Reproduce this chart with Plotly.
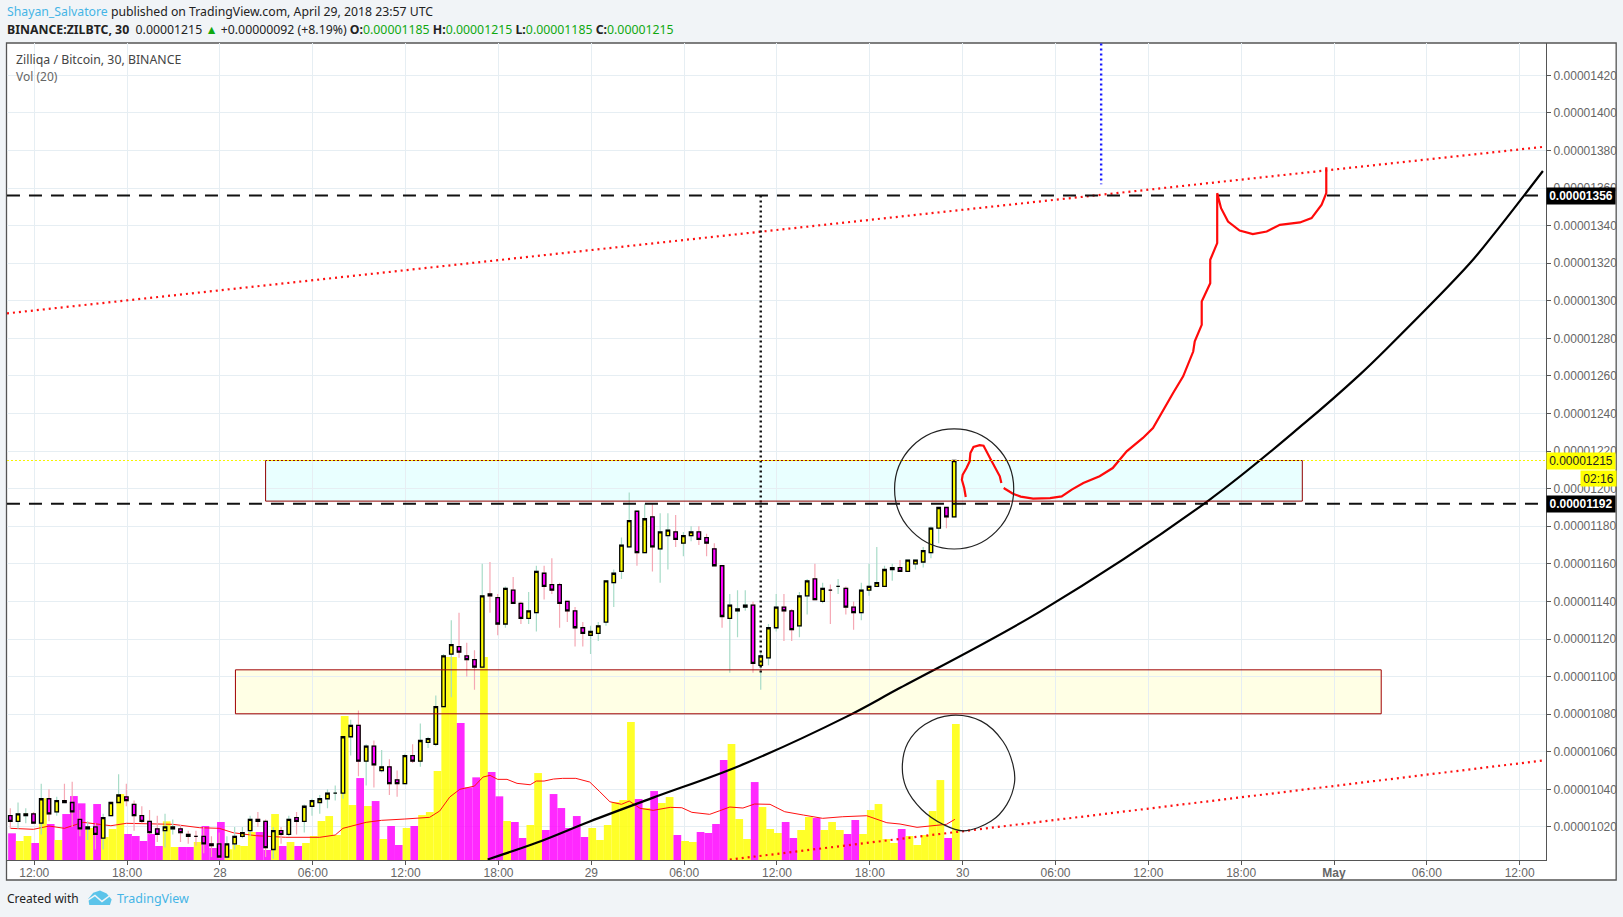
import plotly.graph_objects as go

# Prices are in units of 0.00000001 BTC; one bar = 30 minutes, bar 0 = Apr 27 10:30
opens = [1026,1023,1026,1027,1022,1035,1028,1034,1033,1024,
         1019,1020,1014,1026,1033,1036,1032,1026,1023,1019,
         1018,1019,1019,1016,1015,1015,1011,1011,1004,1011,
         1015,1018,1024,1023,1008,1018,1016,1025,1023,1031,
         1033,1035,1038,1038,1068,1074,1055,1063,1050,1052,
         1045,1043,1058,1055,1065,1064,1084,1112,1116,1111,
         1109,1105,1144,1142,1128,1146,1139,1131,1134,1155,
         1149,1149,1140,1135,1126,1122,1123,1129,1150,1156,
         1169,1188,1166,1185,1168,1175,1177,1171,1175,1177,
         1174,1168,1159,1131,1135,1137,1138,1106,1110,1126,
         1137,1135,1127,1143,1152,1140,1146,1148,1147,1137,
         1134,1146,1148,1148,1157,1158,1156,1160,1161,1166,
         1179,1190,1185]
highs = [1030,1033,1030,1028,1043,1040,1036,1043,1044,1029,
         1023,1022,1027,1033,1048,1043,1034,1031,1029,1026,
         1027,1024,1021,1018,1018,1020,1015,1017,1015,1020,
         1020,1026,1028,1024,1020,1020,1026,1028,1032,1035,
         1037,1040,1042,1068,1077,1082,1064,1066,1061,1056,
         1050,1059,1064,1075,1068,1090,1112,1130,1134,1118,
         1114,1160,1161,1144,1148,1153,1140,1145,1159,1159,
         1163,1150,1140,1137,1129,1127,1129,1151,1157,1174,
         1198,1188,1192,1192,1187,1187,1186,1177,1180,1180,
         1176,1171,1159,1144,1146,1146,1140,1113,1128,1144,
         1144,1136,1145,1152,1160,1150,1149,1152,1148,1140,
         1150,1160,1169,1159,1160,1162,1162,1162,1169,1180,
         1190,1190,1215]
lows = [1019,1019,1022,1022,1016,1023,1026,1033,1020,1015,
        1013,1008,1008,1026,1033,1031,1018,1022,1016,1012,
        1009,1016,1012,1011,1010,1006,1004,1003,1003,1008,
        1014,1015,1020,1004,1003,1011,1015,1016,1017,1026,
        1027,1030,1034,1035,1058,1047,1042,1041,1049,1037,
        1036,1043,1054,1052,1062,1063,1084,1089,1110,1100,
        1093,1105,1134,1122,1126,1139,1128,1128,1124,1141,
        1144,1126,1129,1116,1116,1112,1119,1127,1137,1152,
        1169,1159,1166,1156,1150,1157,1169,1164,1172,1170,
        1164,1159,1126,1102,1121,1135,1102,1093,1106,1124,
        1119,1119,1121,1133,1141,1139,1128,1144,1133,1125,
        1130,1143,1148,1148,1151,1156,1156,1157,1158,1163,
        1171,1179,1185]
closes = [1023,1027,1027,1022,1035,1027,1034,1033,1028,1019,
          1020,1016,1025,1033,1037,1034,1026,1023,1017,1016,
          1020,1020,1017,1015,1015,1011,1010,1004,1011,1015,
          1017,1024,1023,1009,1018,1016,1024,1023,1031,1034,
          1035,1038,1038,1068,1074,1055,1063,1053,1052,1043,
          1043,1058,1055,1066,1067,1084,1111,1117,1113,1109,
          1105,1143,1143,1128,1147,1139,1131,1135,1156,1148,
          1146,1139,1135,1126,1123,1124,1127,1151,1155,1170,
          1183,1166,1184,1169,1177,1178,1173,1175,1177,1173,
          1171,1159,1132,1138,1136,1138,1107,1111,1126,1137,
          1135,1125,1143,1151,1141,1147,1146,1148,1137,1134,
          1146,1148,1150,1157,1158,1156,1162,1162,1167,1179,
          1190,1185,1215]
volumes = [26.7,19,24,17,61.7,36,20,46,64,56.7,
           32,56,23,31,66,26,24,19,26,14,
           38.7,13,13,13,18,34,12,38,10.7,15,
           14,28,28,10,46,14,18,14,17,24,
           39,44,25,144,55,82,54,59,21,34,
           15,32,34,45,48,89,203,203,137,72.7,
           82.7,203,88,63.7,39,38,22,35,87,30,
           66,52,32,44,23,32,20,35,58,60,
           138,61,52,69,57,63,25,19,18,28,
           27,36,100,116,41,21,78,53,31,27,
           38,22,30,43,42,30,38,30,26,40,
           26,50,56,21,17,31,24,15,25,49,
           80,22,136]
vol_ma_bar = [0,3,5,7,9.4,13,15,18,21,24.5,27,28.8,31.8,35.6,40,42,43,46,48,51,53,54.2,
              55.5,56.8,58.1,60,61.1,62,63,64.2,65.5,67.2,68,69,70.2,71.4,73.1,74.9,76.2,
              77.5,79,80,81.4,83.1,85.3,86.8,88.1,90.4,91.7,93,94.7,96.2,98.2,100.1,102.5,
              105,107.6,110.7,113.3,115,117.2,119.3,121,122.1]
vol_ma = [31.7,30.7,34,31.7,37.7,34.3,36.7,36.3,35.7,32.3,31.7,27.3,24.3,22.7,22.7,25,31.7,37.7,39.7,41,41.7,42.7,
          49,63,70.7,74,83,84.7,80.7,80.7,76.7,75.3,79,79,81,81.7,81.7,78,68.3,
          58.3,55.7,59,51.7,49.7,52.7,52.3,47.7,45.7,49.3,53,52,56,55.7,48.3,45,
          41.7,43.3,44.3,37.3,36,32.7,34.7,35.7,40.7]

price_ticks = list(range(1020, 1421, 20))
time_ticks = ["12:00","18:00","28","06:00","12:00","18:00","29","06:00","12:00","18:00",
              "30","06:00","12:00","18:00","<b>May</b>","06:00","12:00"]

level_high = 1356
level_low = 1192
last_price = 1215
cyan_zone = (33, 167, 1193.4, 1215)
yellow_zone = (29.1, 177.2, 1080.2, 1103.6)
channel_upper_bar = [-0.43, 198.1]
channel_upper = [1293.3, 1381.9]
channel_lower_bar = [93, 198]
channel_lower = [1002.6, 1055.3]
curve_bar = [61.7,68.1,74.9,83.1,94.3,108.1,114.6,133.1,155.0,167.2,174.4,177.9,188.6,192.3,198.1]
curve_price = [1002.7,1011.7,1022.9,1035.6,1052.6,1078.7,1093.1,1134.6,1194.1,1234.6,1260.6,1274.5,1319.7,1338.3,1369.1]
hump_bar = [123.5,123.3,123.0,123.1,123.6,124.0,124.1,124.5,125.3,125.8,126.7,127.3,127.9,128.1]
hump_price = [1195.6,1200.4,1204.8,1207.4,1211.0,1214.5,1219.0,1222.2,1223.2,1222.9,1215.8,1211.0,1206.6,1203.0]
path_bar = [128.4,129.6,130.6,132.2,134.4,135.9,137.2,138.7,140.8,142.5,144.3,146.4,147.7,149.0,150.3,151.6,152.9,153.1,
            154.0,154.0,155.1,155.1,156.0,156.0,156.5,157.4,158.9,160.6,162.4,164.1,166.7,168.2,169.5,170.1,170.1]
path_price = [1200.4,1197.3,1195.8,1194.7,1195.0,1195.9,1199.5,1203.0,1206.6,1211.0,1219.9,1227.0,1232.3,1242.0,1250.9,1259.8,1273.0,1278.4,
              1287.2,1299.6,1309.4,1321.8,1330.7,1357.3,1349.3,1342.2,1337.4,1335.5,1336.9,1340.4,1341.7,1344.0,1351.1,1357.3,1371.1]
loop_bar = [121.6,125.5,128.3,129.6,129.8,128.8,126.8,123.2,120.6,117.8,115.8,115.3,116.0,118.2,121.6]
loop_price = [1079.4,1076.3,1065.6,1053.2,1043.5,1031.9,1023.1,1017.9,1021.3,1029.3,1040.8,1052.3,1064.7,1074.5,1079.4]

YELLOW, MAGENTA = "#ffff00", "#ff00ff"
bars = list(range(len(closes)))
X0, X1, Y0, Y1 = 7.0, 1546.5, 43.0, 860.5
PW, PH = X1 - X0, Y1 - Y0
px = lambda v: (v - X0) / PW
py = lambda v: (Y1 - v) / PH

LIGHT = "#e6eef3"
FONT = "Liberation Sans"
HFONT = "Noto Sans"
BLUE = "#45b4e6"
GREEN = "#10a810"

fig = go.Figure()
# volume
fig.add_bar(x=[b + 0.22 for b in bars], y=volumes, width=1.0, yaxis="y",
            marker=dict(color=[YELLOW if c >= o else MAGENTA for o, c in zip(opens, closes)],
                        opacity=0.84, line_width=0), hoverinfo="skip")
fig.add_scatter(x=vol_ma_bar, y=vol_ma, mode="lines", yaxis="y",
                line=dict(color="#ff1010", width=1), hoverinfo="skip")
# candle wicks
fig.add_candlestick(x=bars, open=opens, high=highs, low=lows, close=closes, yaxis="y2",
                    increasing=dict(line=dict(color="#a8dcc8", width=1.2), fillcolor="rgba(0,0,0,0)"),
                    decreasing=dict(line=dict(color="#f5a8b4", width=1.2), fillcolor="rgba(0,0,0,0)"),
                    whiskerwidth=0, hoverinfo="skip")
# candle bodies
fig.add_candlestick(x=bars, open=opens, close=closes,
                    high=[max(o, c) for o, c in zip(opens, closes)],
                    low=[min(o, c) for o, c in zip(opens, closes)], yaxis="y2",
                    increasing=dict(line=dict(color="#000", width=1.3), fillcolor=YELLOW),
                    decreasing=dict(line=dict(color="#000", width=1.3), fillcolor=MAGENTA),
                    whiskerwidth=0, hoverinfo="skip")


def line(x, y, color, width, dash="solid", shape="linear"):
    fig.add_scatter(x=x, y=y, mode="lines", yaxis="y2", hoverinfo="skip",
                    line=dict(color=color, width=width, dash=dash, shape=shape))


xend = [-0.43, 198.5]
line(channel_upper_bar, channel_upper, "#ff1010", 2.2, "2px,4px")
line(channel_lower_bar, channel_lower, "#ff1010", 2.2, "2px,4px")
line(xend, [level_high, level_high], "#111", 2, "13px,9px")
line(xend, [level_low, level_low], "#111", 2, "13px,9px")
line(curve_bar, curve_price, "#000", 2.2, shape="spline")
line([97, 97], [1356, 1102], "#111", 2.4, "2px,3px")
line([141, 141], [1437, 1362], "#1a1aff", 2.4, "2px,3px")
line(hump_bar, hump_price, "#ff0a0a", 2.2)
line(path_bar, path_price, "#ff0a0a", 2.2)
line(loop_bar, loop_price, "#222", 1.2, shape="spline")

shapes = [
    dict(type="rect", xref="paper", yref="paper", layer="below",
         x0=px(6.5), x1=px(1616.7), y0=py(880.5), y1=py(43),
         fillcolor="white", line=dict(color="#555", width=1.3)),
    dict(type="rect", xref="x", yref="y2", layer="below",
         x0=cyan_zone[0], x1=cyan_zone[1], y0=cyan_zone[2], y1=cyan_zone[3],
         fillcolor="rgba(0,255,255,0.085)", line_width=0),
    dict(type="rect", xref="x", yref="y2", layer="below",
         x0=yellow_zone[0], x1=yellow_zone[1], y0=yellow_zone[2], y1=yellow_zone[3],
         fillcolor="rgba(255,255,0,0.1)", line_width=0),
    dict(type="rect", xref="x", yref="y2", layer="above",
         x0=cyan_zone[0], x1=cyan_zone[1], y0=cyan_zone[2], y1=cyan_zone[3],
         line=dict(color="#8f0000", width=1)),
    dict(type="rect", xref="x", yref="y2", layer="above",
         x0=yellow_zone[0], x1=yellow_zone[1], y0=yellow_zone[2], y1=yellow_zone[3],
         line=dict(color="#a00000", width=1)),
    dict(type="line", xref="x", yref="y2", layer="above",
         x0=xend[0], x1=xend[1], y0=last_price, y1=last_price,
         line=dict(color="#f8f400", width=1.2, dash="2px,2px")),
    dict(type="circle", xref="x", yref="y2", layer="above",
         x0=114.3, x1=129.7, y0=1167.9, y1=1231.8, line=dict(color="#222", width=1.2)),
    # TradingView cloud
    dict(type="path", xref="paper", yref="paper", layer="above", line_width=0, fillcolor="#5cc4ea",
         path="M {} {} L {} {} L {} {} L {} {} L {} {} L {} {} L {} {} Z".format(
             px(88.3), py(899.3), px(93.3), py(893.3), px(100), py(891), px(106.7), py(894),
             px(111.7), py(900), px(110), py(905.5), px(89.3), py(905.5))),
    dict(type="path", xref="paper", yref="paper", layer="above", fillcolor="rgba(0,0,0,0)",
         line=dict(color="#f1f4f7", width=1.5),
         path="M {} {} L {} {} L {} {} L {} {}".format(
             px(87.5), py(901), px(95), py(896), px(102), py(902), px(110), py(896))),
]


def note(x, y, text, size=12, color="#333", family=HFONT, anchor="left", **kw):
    fig.add_annotation(xref="paper", yref="paper", x=px(x), y=py(y), text=text, showarrow=False,
                       xanchor=anchor, yanchor="middle", font=dict(size=size, color=color, family=family), **kw)


def tag(price, text, bg, fg, x=X1, width=68, height=16, bold=True):
    fig.add_annotation(xref="paper", yref="y2", x=px(x), y=price, text=f"<b>{text}</b>" if bold else text,
                       showarrow=False, xanchor="left", yanchor="middle", width=width, height=height,
                       bgcolor=bg, borderpad=0, align="center",
                       font=dict(size=12, color=fg, family=FONT))


note(4.5, 11.5, f'<span style="color:{BLUE}">Shayan_Salvatore</span> published on TradingView.com, April 29, 2018 23:57 UTC', size=12.25, color="#222")
note(4.5, 29, f'<b>BINANCE:ZILBTC, 30</b>&#160;&#160;0.00001215 <span style="color:{GREEN}">▲</span> +0.00000092 (+8.19%) '
     f'<b>O:</b><span style="color:{GREEN}">0.00001185</span> <b>H:</b><span style="color:{GREEN}">0.00001215</span> '
     f'<b>L:</b><span style="color:{GREEN}">0.00001185</span> <b>C:</b><span style="color:{GREEN}">0.00001215</span>', size=12.3, color="#222")
note(14, 60, "Zilliqa / Bitcoin, 30, BINANCE", size=12.3, color="#444")
note(14, 77, "Vol (20)", size=12, color="#666")
note(4.5, 899, "Created with", size=12, color="#222")
note(115, 899, "TradingView", size=12.5, color=BLUE)

tag(level_high, "0.00001356", "#000", "#fff")
tag(level_low, "0.00001192", "#000", "#fff")
tag(last_price, "0.00001215", YELLOW, "#222", bold=False)
tag(1205.6, "02:16", YELLOW, "#222", x=1581, width=35, height=15, bold=False)

fig.update_layout(
    width=1623, height=917, showlegend=False, barmode="overlay",
    paper_bgcolor="#f1f4f7", plot_bgcolor="rgba(0,0,0,0)",
    margin=dict(l=X0, r=1623 - X1, t=Y0, b=917 - Y1, pad=0, autoexpand=False),
    boxmode="overlay", boxgap=0.55, boxgroupgap=0, shapes=shapes,
    xaxis=dict(range=[-0.426, 198.5], rangeslider_visible=False, showgrid=True, gridcolor=LIGHT, gridwidth=1,
               tickvals=[3.1 + 12 * n for n in range(17)], ticktext=time_ticks, ticks="outside", ticklen=4,
               tickcolor="#555", showline=True, linecolor="#555", linewidth=1.3, zeroline=False,
               ticklabelstandoff=-3,
               tickfont=dict(family=FONT, size=12, color="#666"), tickangle=0),
    yaxis=dict(range=[0, PH], visible=False, fixedrange=True),
    yaxis2=dict(range=[1002.4, 1437.2], overlaying="y", side="right", anchor="x", showgrid=True, gridcolor=LIGHT,
                gridwidth=1, tickvals=price_ticks, ticktext=[f"0.0000{p}" for p in price_ticks], ticks="outside",
                ticklen=4, tickcolor="#555", showline=True, linecolor="#555", linewidth=1.3, zeroline=False,
                tickfont=dict(family=FONT, size=12, color="#666")),
)
fig.write_html("out.html", config=dict(displayModeBar=False),
               post_script="document.body.style.margin='0';document.body.style.overflow='hidden';")
